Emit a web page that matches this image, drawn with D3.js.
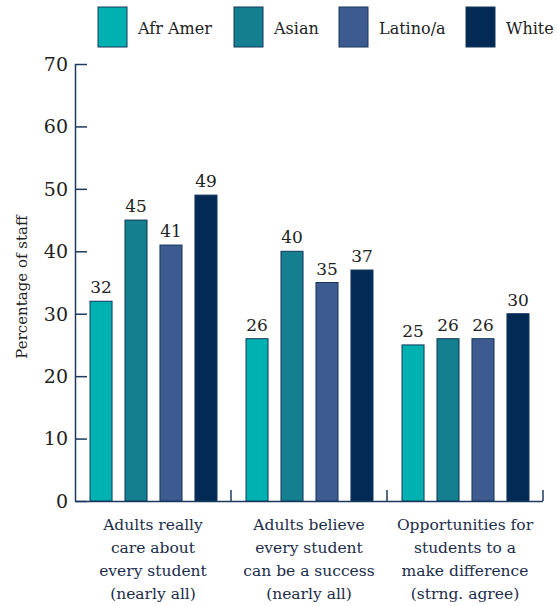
<!DOCTYPE html>
<html><head><meta charset="utf-8">
<script src="https://cdn.jsdelivr.net/npm/d3@7"></script>
<style>body{margin:0;background:#fff} svg text{font-family:"DejaVu Serif",serif}</style>
</head><body>
<svg id="chart" width="557" height="606"></svg>
<script>
const categories = [
  ["Adults really","care about","every student","(nearly all)"],
  ["Adults believe","every student","can be a success","(nearly all)"],
  ["Opportunities for","students to a","make difference","(strng. agree)"]
];
const seriesNames = ["Afr Amer","Asian","Latino/a","White"];
const afrAmer = [32, 26, 25];
const asian = [45, 40, 26];
const latino = [41, 35, 26];
const white = [49, 37, 30];
const yTicks = [0,10,20,30,40,50,60,70];
const colors = ["#00b1b1","#137f8f","#3d5b90","#022a55"];

const seriesValues = [afrAmer, asian, latino, white];
const svg = d3.select("#chart");
const axisColor = "#1d3a5e";

const x0 = d3.scaleBand().domain(d3.range(categories.length)).range([75, 543]).padding(0);
const x1 = d3.scaleBand().domain(d3.range(seriesNames.length)).range([15, 142]).paddingInner(0.37).paddingOuter(0);
const y = d3.scaleLinear().domain([0, 70]).range([501, 64]);

// y axis
const yAxis = d3.axisRight(y).tickValues(yTicks).tickSize(12).tickFormat("");
const gy = svg.append("g").attr("transform","translate(75,0)").call(yAxis);
gy.select(".domain").attr("stroke", axisColor).attr("stroke-width",1.5).attr("d","M0.5,64V501.5");
gy.selectAll(".tick line").attr("stroke", axisColor).attr("stroke-width",1.5);
svg.append("g").selectAll("text").data(yTicks).join("text")
  .attr("x", 68).attr("y", d => y(d)).attr("dy","0.36em")
  .attr("text-anchor","end").attr("font-size",19).attr("fill","#222")
  .text(d => d);

// x axis line and separators
svg.append("line").attr("x1",75).attr("x2",x0.range()[1]).attr("y1",501.5).attr("y2",501.5)
  .attr("stroke",axisColor).attr("stroke-width",1.5);
svg.append("g").selectAll("line").data(d3.range(1, categories.length + 1)).join("line")
  .attr("x1", i => x0(i) !== undefined ? x0(i) : x0.range()[1])
  .attr("x2", i => x0(i) !== undefined ? x0(i) : x0.range()[1])
  .attr("y1",501).attr("y2",490).attr("stroke",axisColor).attr("stroke-width",1.5);

// bars
const groups = svg.append("g").selectAll("g").data(categories).join("g")
  .attr("transform",(d,i) => `translate(${x0(i)},0)`);
groups.each(function(c, ci){
  const g = d3.select(this);
  seriesValues.forEach((vals, si) => {
    const v = vals[ci];
    g.append("rect").attr("x", x1(si)).attr("width", x1.bandwidth())
      .attr("y", y(v)).attr("height", y(0) - y(v))
      .attr("fill", colors[si]).attr("stroke","#14365a").attr("stroke-width",1);
    g.append("text").attr("x", x1(si) + x1.bandwidth()/2).attr("y", y(v) - 8)
      .attr("text-anchor","middle").attr("font-size",17).attr("fill","#222")
      .text(v);
  });
  const t = g.append("text").attr("text-anchor","middle")
    .attr("font-size",15.5).attr("fill","#1b2d4a");
  c.forEach((line, li) => {
    t.append("tspan").attr("x", x0.bandwidth()/2).attr("y", 530 + li*23).text(line);
  });
});

// y axis title
svg.append("text").attr("transform","translate(27,287) rotate(-90)")
  .attr("text-anchor","middle").attr("font-size",15).attr("fill","#222")
  .text("Percentage of staff");

// legend
const legendX = [98, 234, 339, 466];
const lg = svg.append("g").selectAll("g").data(seriesNames).join("g")
  .attr("transform",(d,i) => `translate(${legendX[i]},7)`);
lg.append("rect").attr("width",29).attr("height",40).attr("fill",(d,i)=>colors[i])
  .attr("stroke","#14365a").attr("stroke-width",1);
lg.append("text").attr("x",40).attr("y",21).attr("dy","0.36em")
  .attr("font-size",16).attr("fill","#222").text(d => d);
</script>
</body></html>
